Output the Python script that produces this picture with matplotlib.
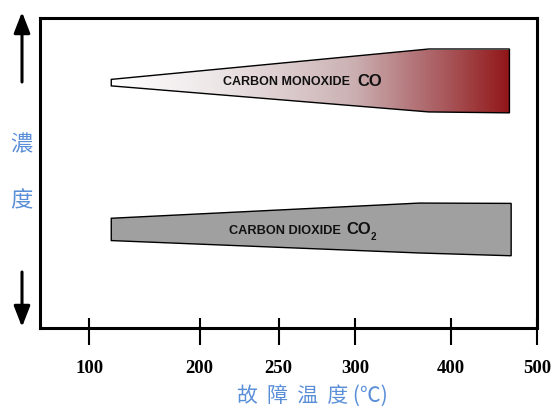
import numpy as np
import matplotlib
matplotlib.use("Agg")
import matplotlib.pyplot as plt
from matplotlib.patches import Polygon, FancyArrowPatch
from matplotlib.colors import LinearSegmentedColormap

# ---- data ----
tick_temps = [100, 200, 250, 300, 400, 500]
tick_labels = ["100", "200", "250", "300", "400", "500"]

# non-uniform temperature axis of the original diagram (temperature -> axis position)
scale_temps = [0, 100, 200, 250, 300, 400, 500, 600]
scale_pos = [-21.4, 89.3, 200, 279, 355.7, 451.7, 538, 624.3]

co_temp = [120, 377, 468]
co_upper = [80.2, 90.0, 90.0]
co_lower = [78.1, 69.7, 69.4]

co2_temp = [120, 367, 470]
co2_upper = [35.4, 40.3, 40.2]
co2_lower = [28.2, 24.2, 23.3]

BLUE = "#5a8fd8"


def fwd(t):
    return np.interp(t, scale_temps, scale_pos)


def inv(p):
    return np.interp(p, scale_pos, scale_temps)


def band(temp, upper, lower):
    return list(zip(temp, upper)) + list(zip(temp[::-1], lower[::-1]))


fig = plt.figure(figsize=(5.52, 4.07), dpi=100)
ax = fig.add_axes([40 / 552, 1 - 328 / 407, (537 - 40) / 552, (328 - 18) / 407])
ax.set_xscale("function", functions=(fwd, inv))
ax.set_xlim(55.5, 500)
ax.set_ylim(0, 100)

for s in ax.spines.values():
    s.set_linewidth(2.2)
    s.set_color("black")

# CO band with gradient
co_poly = Polygon(band(co_temp, co_upper, co_lower), closed=True,
                  facecolor="none", edgecolor="black", linewidth=1.0, zorder=3)
ax.add_patch(co_poly)
cmap = LinearSegmentedColormap.from_list(
    "co", [(0.0, "#ffffff"), (0.25, "#eee8e9"), (0.5, "#cdb4b6"),
           (0.72, "#b06d71"), (1.0, "#911618")])
im = ax.imshow(np.linspace(0, 1, 256)[None, :], cmap=cmap, aspect="auto",
               extent=[co_temp[0], co_temp[-1], min(co_lower), max(co_upper)],
               zorder=2, interpolation="bilinear")
im.set_clip_path(co_poly)

# CO2 band
co2_poly = Polygon(band(co2_temp, co2_upper, co2_lower), closed=True,
                   facecolor="#a0a0a0", edgecolor="black", linewidth=1.0, zorder=3)
ax.add_patch(co2_poly)

# labels in bands
lab_kw = dict(family="Liberation Sans", weight="bold", color="#111111", zorder=4)
ax.text(214.6, 79.2, "CARBON MONOXIDE", fontsize=9, ha="left", va="center", **lab_kw)
ax.text(302.4, 79.6, "CO", fontsize=12, ha="left", va="center", **lab_kw)
ax.text(218.4, 31.2, "CARBON DIOXIDE", fontsize=9.2, ha="left", va="center", **lab_kw)
ax.text(294.3, 31.9, "CO", fontsize=12, ha="left", va="center", **lab_kw)
ax.text(316.0, 29.4, "2", fontsize=7, ha="left", va="center", **lab_kw)

# ticks
ax.set_xticks(tick_temps, tick_labels)
ax.set_xticks(tick_temps, minor=True)
ax.xaxis.remove_overlapping_locs = False
ax.tick_params(axis="x", which="major", direction="out", length=12, width=1.5,
               pad=11, labelsize=13.5)
ax.tick_params(axis="x", which="minor", direction="in", length=7, width=1.5)
for lab in ax.get_xticklabels():
    lab.set_family("Liberation Serif")
    lab.set_weight("bold")
ax.set_yticks([])

# axis titles
fig.text(312.5 / 552, 1 - 396 / 407, "故  障  温  度 (℃)", color=BLUE, fontsize=15,
         family=["Noto Sans CJK TC", "DejaVu Sans"], ha="center", va="center")
fig.text(21 / 552, 1 - 145 / 407, "濃", color=BLUE, fontsize=16,
         family=["Noto Sans CJK TC", "DejaVu Sans"], ha="center", va="center")
fig.text(21 / 552, 1 - 201 / 407, "度", color=BLUE, fontsize=16,
         family=["Noto Sans CJK TC", "DejaVu Sans"], ha="center", va="center")

# arrows
arrow_kw = dict(arrowstyle="-|>,head_length=0.9,head_width=0.35", color="black",
                linewidth=2.2, mutation_scale=14, shrinkA=0, shrinkB=0)
fig.add_artist(FancyArrowPatch((22, 407 - 82), (22, 407 - 12), transform=None, **arrow_kw))
fig.add_artist(FancyArrowPatch((22, 407 - 272), (22, 407 - 327), transform=None, **arrow_kw))

fig.savefig("out.png", dpi=100)
